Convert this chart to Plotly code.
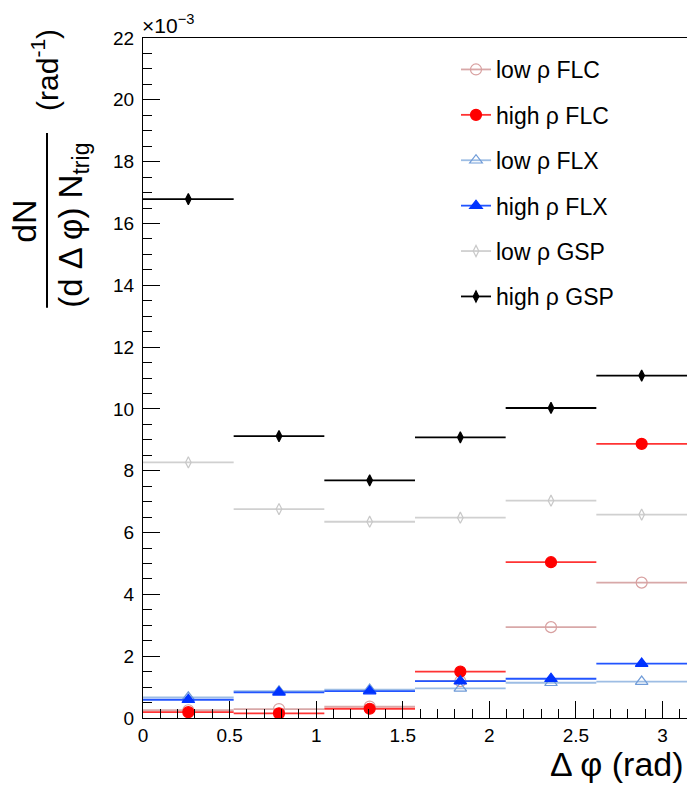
import math
import plotly.graph_objects as go

# ---------------- data (values in units of 1e-3 rad^-1) ----------------
bin_edges = [i * math.pi / 6 for i in range(7)]
bin_centers = [(bin_edges[i] + bin_edges[i + 1]) / 2 for i in range(6)]
half_width = [(bin_edges[i + 1] - bin_edges[i]) / 2 for i in range(6)]

low_flc = [0.25, 0.29, 0.37, 1.19, 2.94, 4.38]
high_flc = [0.19, 0.15, 0.30, 1.50, 5.04, 8.87]
low_flx = [0.67, 0.87, 0.92, 0.96, 1.14, 1.18]
high_flx = [0.59, 0.83, 0.87, 1.19, 1.27, 1.76]
low_gsp = [8.27, 6.76, 6.35, 6.48, 7.03, 6.58]
high_gsp = [16.79, 9.12, 7.69, 9.08, 10.03, 11.08]

series_names = ["low ρ FLC", "high ρ FLC", "low ρ FLX", "high ρ FLX", "low ρ GSP", "high ρ GSP"]
series_values = [low_flc, high_flc, low_flx, high_flx, low_gsp, high_gsp]

x_ticks = [0, 0.5, 1, 1.5, 2, 2.5, 3]
y_ticks = list(range(0, 23, 2))

# ---------------- styles ----------------
styles = [
    dict(color="#d8a0a0", line="#d8a8a8", symbol="circle-open", size=11),
    dict(color="#ff0000", line="#ff3333", symbol="circle", size=11),
    dict(color="#6f9bd8", line="#9dbde4", symbol="triangle-up-open", size=11),
    dict(color="#0033ff", line="#2255ff", symbol="triangle-up", size=11),
    dict(color="#c8c8c8", line="#d0d0d0", symbol="diamond-tall-open", size=8),
    dict(color="#000000", line="#000000", symbol="diamond-tall", size=8),
]

FONT = "Liberation Sans, Arial, Helvetica, sans-serif"

# plot area in pixels
W, H = 687, 785
L, R, T, B = 143, 687, 38, 718.5


def px(xp):
    return (xp - L) / (R - L)


def py(yp):
    return (B - yp) / (B - T)


fig = go.Figure()

for name, vals, st in zip(series_names, series_values, styles):
    fig.add_trace(go.Scatter(
        x=bin_centers, y=vals, mode="markers", name=name,
        showlegend=False,
        marker=dict(color=st["color"], symbol=st["symbol"], size=st["size"],
                    line=dict(color=st["color"], width=1.2)),
        error_x=dict(type="data", array=half_width, visible=True,
                     color=st["line"], thickness=1.8, width=0),
    ))
    # legend entry (line + marker)
    fig.add_trace(go.Scatter(
        x=[None], y=[None], mode="lines+markers", name=name,
        legendgroup=name,
        marker=dict(color=st["color"], symbol=st["symbol"], size=st["size"],
                    line=dict(color=st["color"], width=1.2)),
        line=dict(color=st["line"], width=1.8),
    ))

fig.update_layout(
    width=W, height=H,
    margin=dict(l=L, r=W - R, t=T, b=H - B, pad=0),
    paper_bgcolor="white", plot_bgcolor="white",
    font=dict(family=FONT, color="black", size=18),
    showlegend=True,
    legend=dict(
        x=px(456), y=py(48), xanchor="left", yanchor="top",
        font=dict(family=FONT, size=23, color="black"),
        bgcolor="rgba(0,0,0,0)", borderwidth=0,
        traceorder="grouped", tracegroupgap=12.5,
    ),
    xaxis=dict(
        range=[0, math.pi], tickmode="array", tickvals=x_ticks,
        ticktext=[str(v) for v in x_ticks],
        ticks="inside", ticklen=17, tickwidth=1, tickcolor="black",
        minor=dict(ticks="inside", ticklen=9, dtick=0.1, tickcolor="black"),
        showline=True, linecolor="black", linewidth=1, mirror=True,
        showgrid=False, zeroline=False,
        tickfont=dict(size=19, family=FONT),
        ticklabelstandoff=0,
    ),
    yaxis=dict(
        range=[0, 22], tickmode="array", tickvals=y_ticks,
        ticktext=[str(v) for v in y_ticks],
        ticks="inside", ticklen=17, tickwidth=1, tickcolor="black",
        minor=dict(ticks="inside", ticklen=9, dtick=0.5, tickcolor="black"),
        showline=True, linecolor="black", linewidth=1, mirror=True,
        showgrid=False, zeroline=False,
        tickfont=dict(size=19, family=FONT),
        ticklabelstandoff=4,
    ),
)

ann = [
    # x axis title
    dict(text="Δ φ (rad)", x=px(686), y=py(765), xanchor="right", yanchor="middle",
         font=dict(size=34)),
    # exponent
    dict(text="×10<sup>−3</sup>", x=px(140), y=py(24), xanchor="left", yanchor="middle",
         font=dict(size=21)),
    # y title pieces (rotated)
    dict(text="dN", x=px(24), y=py(222), textangle=-90, xanchor="center", yanchor="middle",
         font=dict(size=34)),
    dict(text="(d Δ φ) N<sub>trig</sub>", x=px(73), y=py(226), textangle=-90,
         xanchor="center", yanchor="middle", font=dict(size=33)),
    dict(text="(rad<sup>-1</sup>)", x=px(45), y=py(70), textangle=-90,
         xanchor="center", yanchor="middle", font=dict(size=30)),
]
for a in ann:
    a.update(xref="paper", yref="paper", showarrow=False)
    a.setdefault("font", {})
    a["font"].setdefault("family", FONT)
    a["font"].setdefault("color", "black")
fig.update_layout(annotations=ann)

fig.add_shape(type="line", xref="paper", yref="paper",
              x0=px(47), x1=px(47), y0=py(133), y1=py(308),
              line=dict(color="black", width=2))

fig.write_html("out.html", config={"displayModeBar": False},
               post_script="document.body.style.margin='0';document.body.style.overflow='hidden';")
